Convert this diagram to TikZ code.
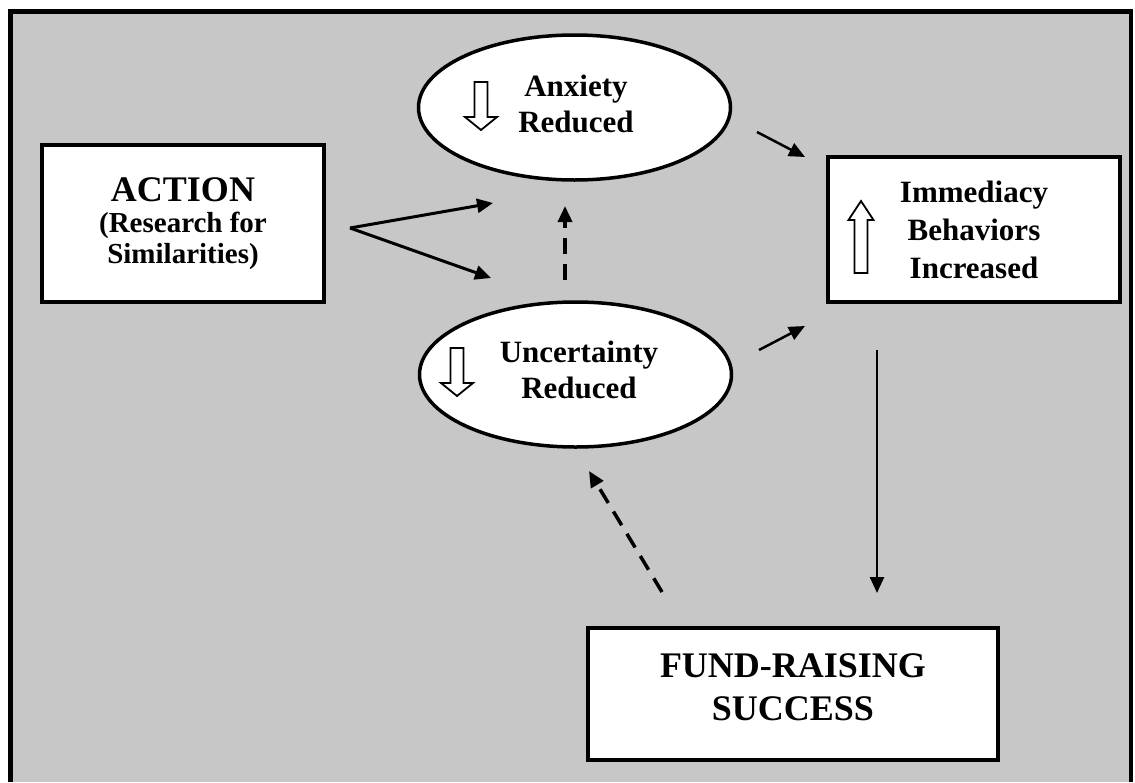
\documentclass[tikz,border=0pt]{standalone}
\usepackage{fontspec}
\setmainfont{Liberation Serif}
\usetikzlibrary{arrows.meta,shapes.geometric}
\begin{document}
\begin{tikzpicture}[x=1pt,y=-1pt,
  boxnode/.style={draw=black,line width=3.5pt,fill=white,inner sep=0pt,align=center},
  ellnode/.style={ellipse,draw=black,line width=3.5pt,fill=white,inner sep=0pt,
    minimum width=312pt,minimum height=145pt},
  txt/.style={align=center,inner sep=0pt,font=\bfseries\fontsize{31}{36}\selectfont},
  conn/.style={line width=3pt,-{Triangle[length=16pt,width=14pt]}},
  dconn/.style={conn,line width=3.5pt,dash pattern=on 16pt off 10pt},
  hollow/.style={draw=black,line width=1.8pt,fill=white,line join=miter},
  downarr/.pic={\draw[hollow] (-6.5,-24) -- (6.5,-24) -- (6.5,11) -- (16,11) -- (0,24) -- (-16,11) -- (-6.5,11) -- cycle;},
  uparr/.pic={\draw[hollow] (-6.5,36) -- (6.5,36) -- (6.5,-17) -- (12.5,-17) -- (0,-36) -- (-12.5,-17) -- (-6.5,-17) -- cycle;}
]
\useasboundingbox (0,0) rectangle (1135,782);
\fill[black!22] (8,10) rectangle (1133,782);
\draw[line width=4.5pt] (10.25,782) -- (10.25,11.25) -- (1131,11.25) -- (1131,782);

% nodes
\node[boxnode,minimum width=282pt,minimum height=157pt,font=\bfseries\fontsize{29}{31}\selectfont]
  (action) at (183,223.5) {{\fontsize{36}{31}\selectfont ACTION}\\(Research for\\Similarities)};
\node[ellnode] (anx) at (574.5,107.5) {};
\node[txt] (anxtxt) at (576,104) {Anxiety\\Reduced};
\node[ellnode] (unc) at (575.5,374.5) {};
\node[txt] (unctxt) at (579,370) {Uncertainty\\Reduced};
\node[boxnode,minimum width=292pt,minimum height=145pt,font=\bfseries\fontsize{31}{38}\selectfont]
  (imm) at (974,229.5) {Immediacy\\Behaviors\\Increased};
\node[boxnode,minimum width=410pt,minimum height=132pt] (fund) at (793,694) {};
\node[txt,font=\bfseries\fontsize{36}{43}\selectfont] (fundtxt) at (793,687) {FUND-RAISING\\SUCCESS};

% hollow arrow signs
\pic at (481,106) {downarr};
\pic at (457,372) {downarr};
\pic at (861,237) {uparr};

% connector end points
\coordinate (fork) at (350,228);
\coordinate (a1) at (493,203);
\coordinate (a2) at (491,278);
\coordinate (d1s) at (565,280);
\coordinate (d1e) at (565,206);
\coordinate (x1s) at (757,132);
\coordinate (x1e) at (805,157);
\coordinate (x2s) at (759,350);
\coordinate (x2e) at (805,326);
\coordinate (v1s) at (877,350);
\coordinate (v1e) at (877,593);
\coordinate (d2s) at (662,592);
\coordinate (d2e) at (589,471);

% connectors
\draw[conn] (fork) -- (a1);
\draw[conn] (fork) -- (a2);
\draw[dconn] (d1s) -- (d1e);
\draw[conn,line width=2.5pt] (x1s) -- (x1e);
\draw[conn,line width=2.5pt] (x2s) -- (x2e);
\draw[conn,line width=2.5pt] (v1s) -- (v1e);
\draw[dconn] (d2s) -- (d2e);
\end{tikzpicture}
\end{document}
